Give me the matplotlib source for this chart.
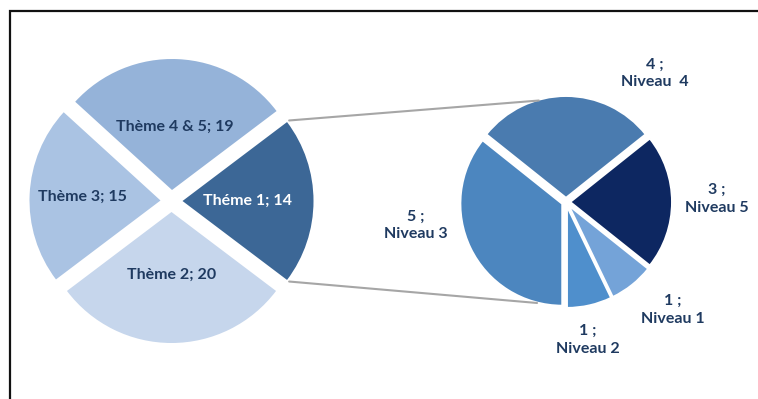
import numpy as np
import matplotlib
matplotlib.use("Agg")
import matplotlib.pyplot as plt
from matplotlib.patches import ConnectionPatch, Rectangle

# Données
themes = ["Théme 1", "Thème 2", "Thème 3", "Thème 4 & 5"]
theme_values = [14, 20, 15, 19]
niveaux = ["Niveau 1", "Niveau 2", "Niveau 3", "Niveau  4", "Niveau 5"]
niveau_values = [1, 1, 5, 4, 3]

theme_colors = ["#3C6796", "#C6D6EC", "#AAC3E3", "#95B3D9"]
niveau_colors = ["#74A3D8", "#4F8FCC", "#4C86BF", "#4A7BAF", "#0D2761"]
text_color = "#1F3A60"

plt.rcParams["font.family"] = ["Lato", "DejaVu Sans"]

W, H = 758, 399
fig = plt.figure(figsize=(W / 100, H / 100), dpi=100)


def add_pie_axes(cx, cy, r, half=1.25):
    size = 2 * half * r
    ax = fig.add_axes([(cx - size / 2) / W, (H - cy - size / 2) / H, size / W, size / H])
    ax.axis("off")
    return ax


# Camembert principal
axL = add_pie_axes(171.5, 201, 131)
start_L = 360 * theme_values[0] / sum(theme_values) / 2
wedgesL, _ = axL.pie(theme_values, colors=theme_colors, startangle=start_L,
                     counterclock=False, explode=[0.084] * 4, radius=1,
                     wedgeprops=dict(linewidth=0))
axL.set_xlim(-1.25, 1.25)
axL.set_ylim(-1.25, 1.25)

label_dist = [0.58, 0.565, 0.68, 0.565]
for w, name, val, d in zip(wedgesL, themes, theme_values, label_dist):
    tm = np.deg2rad((w.theta1 + w.theta2) / 2)
    col = "white" if name == "Théme 1" else text_color
    axL.text(d * np.cos(tm), d * np.sin(tm), f"{name}; {val}", ha="center",
             va="center", fontsize=11.5, fontweight="bold", color=col)

# Camembert secondaire
axR = add_pie_axes(566, 202, 102)
start_R = -360 * niveau_values[4] / sum(niveau_values) / 2
wedgesR, _ = axR.pie(niveau_values, colors=niveau_colors, startangle=start_R,
                     counterclock=False, explode=[0.04] * 5, radius=1,
                     wedgeprops=dict(linewidth=1.5, edgecolor="white"))
axR.set_xlim(-1.25, 1.25)
axR.set_ylim(-1.25, 1.25)

label_pos = [(1.05, -1.06), (0.21, -1.35), (-1.47, -0.23), (0.87, 1.26), (1.48, 0.03)]
for (lx, ly), name, val in zip(label_pos, niveaux, niveau_values):
    axR.text(lx, ly, f"{val} ;\n{name}", ha="center", va="center",
             fontsize=11.5, fontweight="bold", color=text_color, linespacing=1.35)

# Lignes de liaison
w1 = wedgesL[0]
cx1, cy1 = w1.center
for ang_L, ang_R in [(w1.theta2, 105), (w1.theta1, 254)]:
    a = np.deg2rad(ang_L)
    b = np.deg2rad(ang_R)
    con = ConnectionPatch(xyA=(cx1 + 1.02 * np.cos(a), cy1 + 1.02 * np.sin(a)), coordsA=axL.transData,
                          xyB=(1.03 * np.cos(b), 1.03 * np.sin(b)), coordsB=axR.transData,
                          color="#A6A6A6", linewidth=1.5)
    fig.add_artist(con)

# Cadre
fig.add_artist(Rectangle((10 / W, -0.1), 2, 1.1 - 11 / H, transform=fig.transFigure,
                         fill=False, edgecolor="#111111", linewidth=1.6))

fig.savefig("out.png", dpi=100)
